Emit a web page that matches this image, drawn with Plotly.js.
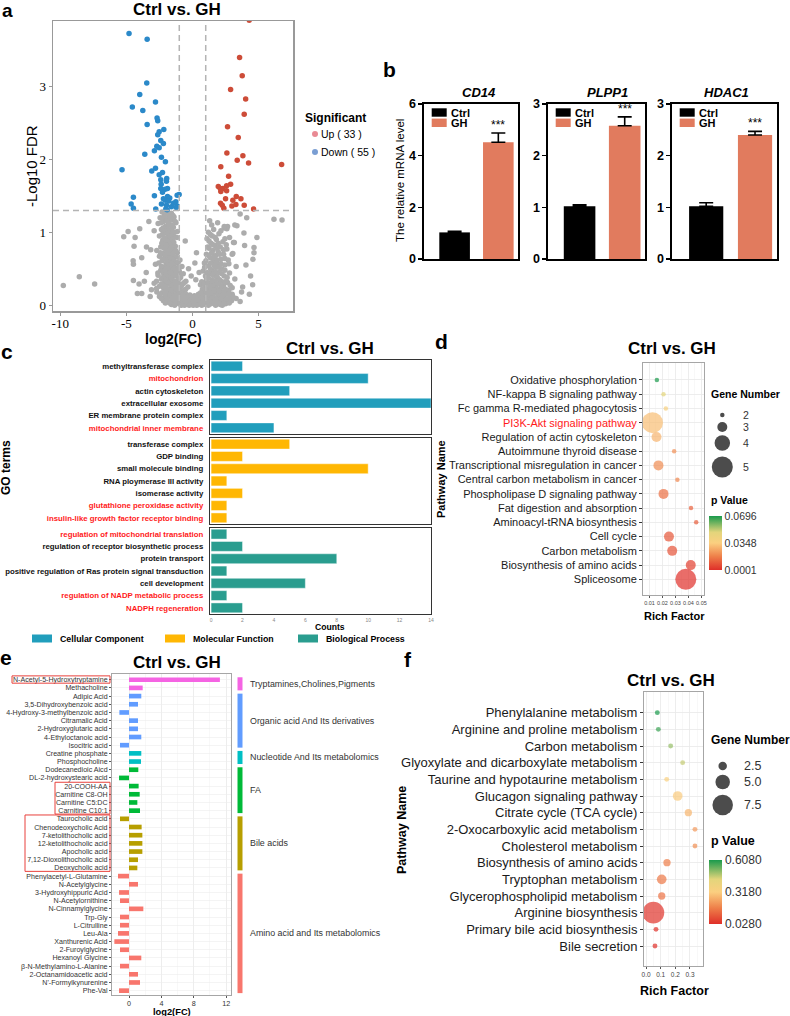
<!DOCTYPE html>
<html>
<head>
<meta charset="utf-8">
<script src="https://cdn.plot.ly/plotly-3.0.1.min.js"></script>
<style>
  body { margin: 0; background: #fff; }
  #chart { width: 790px; height: 1016px; }
</style>
</head>
<body>
<div id="chart"></div>
<script>
// ---------- a: volcano ----------
const volcanoUp = [[4.29,3.91],[3.56,3.4],[3.76,3.15],[2.88,2.96],[4.02,2.83],[3.91,2.62],[2.65,2.45],[3.46,2.3],[2.6,2.09],[3.81,2.05],[3.38,1.99],[4.24,1.95],[6.74,1.93],[2.14,1.9],
  [2.73,1.77],[2.88,1.66],[2.58,1.64],[1.95,1.63],[2.1,1.6],[2.3,1.6],[2.14,1.56],[2.58,1.57],[2.5,1.46],[3.05,1.44],[3.31,1.49],[3.66,1.46],[2.12,1.4],[2.25,1.37],[2.37,1.33],[2.98,1.36],[3.28,1.38],[3.91,1.37],[4.62,1.32]];
const volcanoDown = [[-4.8,3.73],[-3.43,3.65],[-3.46,3.05],[-3.99,2.89],[-2.8,2.79],[-4.55,2.72],[-3.76,2.67],[-2.68,2.57],[-2.63,2.53],[-3.43,2.48],[-2.17,2.41],[-2.52,2.38],[-2.63,2.34],[-2.4,2.26],[-2.2,2.22],[-2.7,2.18],[-2.52,2.16],[-2.88,2.12],[-3.61,2.07],[-2.35,2.03],[-2.05,1.97],[-2.8,1.88],[-5.33,1.86],
  [-3.08,1.84],[-2.27,1.82],[-2.52,1.79],[-1.95,1.74],[-2.4,1.72],[-1.97,1.7],[-2.37,1.66],[-1.89,1.6],[-2.4,1.6],[-2.07,1.59],[-2.27,1.55],[-2.88,1.5],[-1.89,1.49],[-1.72,1.47],[-1.16,1.51],[-1.01,1.52],[-4.47,1.48],[-2.05,1.44],[-1.8,1.43],[-1.26,1.42],[-4.64,1.39],[-2.35,1.39],[-1.97,1.37],[-1.16,1.36],[-4.47,1.33],[-2.78,1.32],[-2.02,1.32],[-1.23,1.34],[-1.92,1.31],[-1.6,1.35],[-2.2,1.46],[-1.45,1.4]];
const volcanoNS = [
  [-2.3,1.28],[-1.9,1.27],[-1.6,1.26],[-2.1,1.24],[-1.75,1.22],[-2.45,1.2],[-1.4,1.21],[-2.0,1.18],[-1.55,1.17],[-2.2,1.15],[-1.85,1.14],[-1.25,1.13],[-2.6,1.12],[-1.65,1.1],[-2.05,1.08],[-1.45,1.07],[-1.9,1.05],[-2.35,1.04],[-1.7,1.02],[-1.15,1.01],[-2.15,0.99],[-1.55,0.98],[-1.85,0.96],[-2.5,0.95],[-1.35,0.94],[-2.0,0.92],[-1.7,0.9],[-2.25,0.89],[-1.5,0.88],[-1.9,0.86],
  [-2.1,0.84],[-1.6,0.83],[-1.3,0.81],[-2.4,0.8],[-1.8,0.79],[-2.0,0.77],[-1.45,0.76],[-2.7,0.75],[-1.7,0.74],[-1.15,0.72],[-2.2,0.71],[-1.9,0.7],[-1.55,0.68],[-2.5,0.67],[-1.35,0.66],[-2.05,0.64],[-1.75,0.63],[-0.95,0.62],[-2.3,0.61],[-1.6,0.6],[-1.2,0.58],[-2.0,0.57],[-2.8,0.56],[-1.45,0.55],[-1.85,0.54],[-0.8,0.53],[-2.15,0.52],[-1.3,0.51],[-1.65,0.5],
  [-2.4,0.48],[-1.0,0.47],[-1.9,0.46],[-1.5,0.45],[-2.2,0.44],[-0.7,0.43],[-1.7,0.42],[-2.6,0.41],[-1.25,0.4],[-2.0,0.39],[-0.9,0.38],[-1.55,0.37],[-2.35,0.36],[-1.8,0.35],[-1.1,0.34],[-0.5,0.33],[-2.1,0.32],[-1.4,0.31],[-2.9,0.3],[-1.65,0.3],[-0.75,0.29],[-1.95,0.28],[-1.2,0.27],[-2.5,0.26],[-0.35,0.25],[-1.5,0.25],[-2.2,0.24],[-0.95,0.23],[-1.75,0.22],[-3.1,0.21],[-1.3,0.21],[-0.6,0.2],
  [-2.7,0.18],[-2.3,0.17],[-1.9,0.16],[-1.55,0.17],[-1.2,0.16],[-0.85,0.18],[-0.5,0.15],[-0.2,0.14],[0.15,0.13],[0.45,0.15],[0.8,0.17],[1.1,0.16],[1.45,0.18],[1.8,0.17],[2.2,0.16],[2.6,0.18],[3.0,0.15],
  [-2.5,0.12],[-2.1,0.11],[-1.7,0.12],[-1.35,0.1],[-1.0,0.11],[-0.65,0.09],[-0.3,0.08],[0.0,0.07],[0.3,0.09],[0.65,0.1],[0.95,0.11],[1.3,0.12],[1.65,0.1],[2.0,0.11],[2.4,0.12],[2.8,0.1],[3.3,0.09],
  [-2.2,0.06],[-1.85,0.05],[-1.5,0.06],[-1.15,0.04],[-0.8,0.05],[-0.45,0.03],[-0.1,0.02],[0.2,0.03],[0.5,0.04],[0.85,0.05],[1.2,0.04],[1.55,0.06],[1.9,0.05],[2.25,0.06],[2.6,0.04],[2.95,0.06],[3.6,0.05],
  [-1.6,0.01],[-1.0,0.02],[-0.6,0.0],[0.05,0.0],[0.4,0.01],[0.7,0.0],[1.0,0.01],[1.4,0.02],[1.75,0.0],[2.1,0.01],[2.5,0.02],
  [1.3,1.16],[1.9,1.13],[2.4,1.08],[2.6,1.05],[1.6,1.04],[3.2,1.1],[1.2,1.0],[2.0,0.98],[1.5,0.95],[2.8,0.93],[1.1,0.91],[1.8,0.9],[2.3,0.87],[1.4,0.85],[3.1,0.86],[1.7,0.82],[2.1,0.8],[1.25,0.78],[2.6,0.77],[1.55,0.75],[1.95,0.73],[1.05,0.7],[2.35,0.7],[1.75,0.68],[3.0,0.7],[1.35,0.65],[2.15,0.63],[2.7,0.62],[1.6,0.6],[0.9,0.58],[1.9,0.57],[2.45,0.55],[1.2,0.54],[3.3,0.53],[1.75,0.52],[2.2,0.5],[1.45,0.48],[0.8,0.47],[2.0,0.45],[2.8,0.44],[1.3,0.43],[1.65,0.41],[2.4,0.4],[1.05,0.38],[1.9,0.37],[3.2,0.36],[1.5,0.35],[2.15,0.33],[0.7,0.32],[2.65,0.31],[1.25,0.3],[1.8,0.28],[2.35,0.27],[0.95,0.26],[1.55,0.24],[3.0,0.24],[2.05,0.22],[1.15,0.21],[2.75,0.2],
  [-0.55,0.88],[0.3,0.72],[0.18,0.58],[-0.3,0.5],[0.5,0.45],[-0.1,0.4],[0.25,0.35],[0.6,0.28],
  [-9.77,0.27],[-8.56,0.39],[-7.4,0.29],[6.16,1.18],[6.77,1.17],[-5.2,0.94],[-4.87,1.01],[-4.34,0.93],[-3.99,1.05],[-4.42,0.81],[-4.49,0.61],[-4.47,0.56],[-3.84,0.65],[-3.48,0.8],[-3.16,0.76],[-4.47,0.34],[-4.17,0.16],[-3.84,0.16],[-4.04,0.29],[-3.64,0.33],[4.87,0.93],[3.89,0.99],[3.94,0.82],[4.65,0.79],[4.65,0.72],[4.57,0.63],[4.39,0.4],[4.04,0.55],[3.79,0.25],[3.71,0.18],[3.36,1.09],[2.65,1.08],[2.4,1.06],[3.16,0.86],[3.05,0.71],[4.55,0.28],[4.3,0.15],[-3.3,1.15],[-2.9,1.02],[-3.5,0.45],[-3.2,0.12],[4.1,1.2],[3.6,1.25],
  [-1.82,1.25],[-1.48,1.23],[-2.18,1.21],[-1.62,1.19],[-1.95,1.16],[-1.32,1.15],[-2.38,1.13],[-1.78,1.11],[-1.52,1.09],[-2.22,1.06],[-1.62,1.04],[-1.98,1.02],[-1.38,1.0],[-1.82,0.99],[-2.28,0.97],[-1.68,0.95],[-1.18,0.93],[-2.12,0.91],[-1.58,0.9],[-1.88,0.88],[-1.42,0.86],[-2.32,0.85],[-1.72,0.84],[-1.98,0.82],[-1.52,0.8],[-2.15,0.78],[-1.62,0.77],[-1.28,0.75],[-1.92,0.73],[-2.42,0.72],[-1.48,0.71],[-1.78,0.69],[-2.08,0.67],[-1.22,0.66],[-1.68,0.65],[-2.25,0.63],[-1.42,0.62],[-1.92,0.6],[-1.08,0.59],[-2.55,0.58],[-1.58,0.57],[-1.78,0.55],[-2.35,0.53],[-1.05,0.52],[-1.88,0.51],[-1.48,0.49],[-2.05,0.48],[-1.22,0.46],[-1.72,0.45],[-2.62,0.44],[-0.88,0.42],[-1.38,0.41],[-1.95,0.4],[-2.25,0.38],[-1.62,0.37],[-1.02,0.36],[-2.02,0.35],[-1.32,0.33],[-2.72,0.33],[-0.62,0.31],[-1.82,0.31],[-1.05,0.29],[-2.35,0.29],[-1.58,0.27],[-0.85,0.26],[-2.02,0.25],[-1.28,0.24],[-2.72,0.23],[-0.52,0.22],[-1.65,0.2],[-2.05,0.19],[-1.02,0.19],
  [-2.45,0.15],[-2.05,0.14],[-1.72,0.14],[-1.38,0.13],[-1.05,0.14],[-0.72,0.13],[-0.38,0.12],[-0.05,0.11],[0.28,0.12],[0.58,0.13],[0.88,0.14],[1.22,0.14],[1.55,0.15],[1.92,0.14],[2.32,0.14],[2.72,0.15],
  [-2.35,0.09],[-1.95,0.08],[-1.55,0.09],[-1.22,0.07],[-0.85,0.08],[-0.52,0.06],[-0.18,0.05],[0.12,0.06],[0.42,0.07],[0.78,0.08],[1.08,0.08],[1.45,0.09],[1.82,0.08],[2.15,0.09],[2.55,0.08],[3.05,0.12],
  [-2.05,0.03],[-1.72,0.03],[-1.32,0.02],[-0.92,0.03],[-0.32,0.04],[0.32,0.0],[0.62,0.03],[0.95,0.03],[1.32,0.05],[1.62,0.03],[2.02,0.03],[2.35,0.02],[2.78,0.03],[-1.35,0.0],[-0.85,0.0],[-0.25,0.0],[1.2,0.0],[2.25,0.0],
  [1.45,1.1],[2.15,1.02],[1.35,0.97],[1.72,0.93],[2.45,0.91],[1.25,0.88],[1.95,0.85],[1.55,0.83],[2.55,0.83],[1.15,0.8],[1.85,0.78],[2.35,0.76],[1.45,0.72],[2.05,0.7],[1.22,0.68],[1.62,0.66],[2.45,0.64],[1.85,0.62],[1.02,0.61],[1.38,0.58],[2.15,0.57],[2.75,0.57],[1.62,0.55],[0.92,0.52],[1.95,0.52],[1.35,0.5],[2.45,0.48],[1.72,0.46],[1.08,0.45],[2.22,0.43],[1.52,0.42],[0.98,0.4],[1.85,0.39],[2.62,0.38],[1.22,0.37],[2.05,0.35],[1.72,0.33],[1.02,0.33],[2.45,0.32],[1.45,0.31],[0.85,0.29],[2.02,0.29],[1.62,0.27],[2.85,0.27],[1.32,0.26],[2.2,0.25],[1.82,0.23],[0.75,0.22],[2.5,0.22],[1.4,0.21],[1.05,0.18],[1.98,0.19],[2.38,0.19],[0.62,0.17],[1.65,0.2]
];

// ---------- b: qPCR ----------
const genes = ['CD14', 'PLPP1', 'HDAC1'];
const ctrlMean = [1.03, 1.02, 1.02];
const ctrlErr = [0.04, 0.03, 0.07];
const ghMean = [4.52, 2.58, 2.40];
const ghErr = [0.36, 0.17, 0.07];
const bYMax = [6, 3, 3];

// ---------- c: GO ----------
const goCC = ['methyltransferase complex', 'mitochondrion', 'actin cytoskeleton', 'extracellular exosome', 'ER membrane protein complex', 'mitochondrial inner membrane'];
const goCCCount = [2, 10, 5, 14, 1, 4];
const goMF = ['transferase complex', 'GDP binding', 'small molecule binding', 'RNA ploymerase III activity', 'isomerase activity', 'glutathione peroxidase activity', 'insulin-like growth factor receptor binding'];
const goMFCount = [5, 2, 10, 1, 2, 1, 1];
const goBP = ['regulation of mitochondrial translation', 'regulation of receptor biosynthetic process', 'protein transport', 'positive regulation of Ras protein signal transduction', 'cell development', 'regulation of NADP metabolic process', 'NADPH regeneration'];
const goBPCount = [1, 2, 8, 1, 6, 1, 2];
const goRed = ['mitochondrion', 'mitochondrial inner membrane', 'glutathione peroxidase activity', 'insulin-like growth factor receptor binding', 'regulation of mitochondrial translation', 'regulation of NADP metabolic process', 'NADPH regeneration'];
const goGroups = ['Cellular Component', 'Molecular Function', 'Biological Process'];

// ---------- d: KEGG (genes) ----------
const keggNames = ['Oxidative phosphorylation', 'NF-kappa B signaling pathway', 'Fc gamma R-mediated phagocytosis', 'PI3K-Akt signaling pathway', 'Regulation of actin cytoskeleton', 'Autoimmune thyroid disease', 'Transcriptional misregulation in cancer', 'Central carbon metabolism in cancer', 'Phospholipase D signaling pathway', 'Fat digestion and absorption', 'Aminoacyl-tRNA biosynthesis', 'Cell cycle', 'Carbon metabolism', 'Biosynthesis of amino acids', 'Spliceosome'];
const keggRich = [0.0157, 0.0208, 0.0226, 0.0123, 0.0154, 0.029, 0.0169, 0.0315, 0.0208, 0.042, 0.046, 0.025, 0.0275, 0.0418, 0.038];
const keggGenes = [2, 2, 2, 5, 3, 2, 3, 2, 3, 2, 2, 3, 3, 3, 5];
const keggP = [0.0696, 0.048, 0.037, 0.031, 0.029, 0.021, 0.020, 0.019, 0.014, 0.011, 0.0098, 0.0085, 0.0077, 0.0036, 0.0001];
const keggRed = ['PI3K-Akt signaling pathway'];

// ---------- e: metabolites ----------
const metNames = ['N-Acetyl-5-Hydroxytryptamine', 'Methacholine', 'Adipic Acid', '3,5-Dihydroxybenzoic acid', '4-Hydroxy-3-methylbenzoic acid', 'Citramalic Acid', '2-Hydroxyglutaric acid', '4-Ethyloctanoic acid', 'Isocitric acid', 'Creatine phosphate', 'Phosphocholine', 'Dodecanedioic Aicd', 'DL-2-hydroxystearic acid', '20-COOH-AA', 'Carnitine C8-OH', 'Carnitine C5:DC', 'Carnitine C10:1', 'Taurocholic acid', 'Chenodeoxycholic Acid', '7-ketolithocholic acid', '12-ketolithocholic acid', 'Apocholic acid', '7,12-Dioxolithocholic acid', 'Deoxycholic acid', 'Phenylacetyl-L-Glutamine', 'N-Acetylglycine', '3-Hydroxyhippuric Acid', 'N-Acetylornithine', 'N-Cinnamylglycine', 'Trp-Gly', 'L-Citrulline', 'Leu-Ala', 'Xanthurenic Acid', '2-Furoylglycine', 'Hexanoyl Glycine', 'β-N-Methylamino-L-Alanine', '2-Octanamidoacetic acid', "N'-Formylkynurenine", 'Phe-Val'];
const metFC = [11.23, 1.69, 1.52, 1.11, -1.19, 1.11, 1.11, 1.52, -1.11, 1.52, 1.48, 1.15, -1.23, 1.19, 1.32, 1.03, 1.36, -1.11, 1.56, 1.65, 1.65, 1.65, 1.11, 1.03, -1.36, 1.11, -1.23, -1.11, 1.77, -1.11, -1.11, -1.36, -1.81, -1.11, 1.52, -1.11, 1.11, 1.36, -1.23];
const metClasses = ['Tryptamines,Cholines,Pigments', 'Organic acid And Its derivatives', 'Nucleotide And Its metabolomics', 'FA', 'Bile acids', 'Amino acid and Its metabolomics'];
const metClassSize = [2, 7, 2, 6, 7, 15];
const metClassColor = ['#F564E3', '#619CFF', '#00BFC4', '#00BA38', '#B79F00', '#F8766D'];
const metBoxed = [[0, 0], [13, 16], [17, 23]];

// ---------- f: KEGG (metabolites) ----------
const fNames = ['Phenylalanine metabolism', 'Arginine and proline metabolism', 'Carbon metabolism', 'Glyoxylate and dicarboxylate metabolism', 'Taurine and hypotaurine metabolism', 'Glucagon signaling pathway', 'Citrate cycle (TCA cycle)', '2-Oxocarboxylic acid metabolism', 'Cholesterol metabolism', 'Biosynthesis of amino acids', 'Tryptophan metabolism', 'Glycerophospholipid metabolism', 'Arginine biosynthesis', 'Primary bile acid biosynthesis', 'Bile secretion'];
const fRich = [0.077, 0.084, 0.168, 0.25, 0.141, 0.216, 0.289, 0.334, 0.334, 0.143, 0.107, 0.107, 0.05, 0.068, 0.061];
const fGenes = [1, 1, 1, 1, 1, 3, 2, 1, 1, 2, 3, 2, 8, 1, 1];
const fP = [0.608, 0.58, 0.5, 0.46, 0.33, 0.31, 0.27, 0.22, 0.2, 0.17, 0.16, 0.15, 0.035, 0.03, 0.028];

// ---------- helpers ----------
const W = 790, H = 1016;
const px = v => v / W;
const py = v => 1 - v / H;
const SANS = "'Liberation Sans', Arial, sans-serif";
const SERIF = "'Liberation Serif', 'Times New Roman', serif";
const RED = '#ff1a1a';
const pScale = [[0, '#df2f29'], [0.25, '#ee7f49'], [0.5, '#fbcf80'], [0.7, '#e3d57b'], [1, '#1a9a4c']];
const sizeD = n => 5.5 * n - 6.5;   // gene number -> marker diameter (panel d)
const sizeF = n => 2.5 + 2.4 * n;   // gene number -> marker diameter (panel f)
const redLabel = (s, list) => list.includes(s) ? '<span style="color:' + RED + '">' + s + '</span>' : s;

function ann(text, x, y, size, opts) {
  return Object.assign({
    text: text, x: px(x), y: py(y), xref: 'paper', yref: 'paper', showarrow: false,
    xanchor: 'center', yanchor: 'middle',
    font: { family: SANS, size: size, color: '#000' }
  }, opts || {});
}
const bold = (size, extra) => ({ font: Object.assign({ family: SANS, size: size, color: '#000', weight: 'bold' }, extra || {}) });

const traces = [];
const annotations = [];
const shapes = [];
const layout = {
  width: W, height: H, margin: { l: 0, r: 0, t: 0, b: 0 },
  paper_bgcolor: '#fff', plot_bgcolor: 'rgba(0,0,0,0)',
  showlegend: false, font: { family: SANS, color: '#000' }
};

// ===== a =====
[[volcanoNS, '#acacac'], [volcanoDown, '#2b89c9'], [volcanoUp, '#cd4c38']].forEach(([pts, col]) => {
  traces.push({
    type: 'scatter', mode: 'markers', xaxis: 'x', yaxis: 'y',
    x: pts.map(p => p[0]), y: pts.map(p => p[1]),
    marker: { color: col, size: 5.5 }, hoverinfo: 'skip'
  });
});
layout.xaxis = {
  domain: [px(53), px(293)], anchor: 'y', range: [-10.55, 7.6],
  tickvals: [-10, -5, 0, 5], ticktext: ['-10', '-5', '0', '5'],
  ticks: 'outside', ticklen: 3, tickcolor: '#999', ticklabelstandoff: -3,
  tickfont: { family: SERIF, size: 13, color: '#000' },
  showline: true, mirror: true, linecolor: '#999', linewidth: 1.5, showgrid: false, zeroline: false
};
layout.yaxis = {
  domain: [py(311), py(21)], anchor: 'x', range: [-0.08, 3.9],
  tickvals: [0, 1, 2, 3], ticks: 'outside', ticklen: 3, tickcolor: '#999',
  tickfont: { family: SERIF, size: 13, color: '#000' },
  showline: true, mirror: true, linecolor: '#999', linewidth: 1.5, showgrid: false, zeroline: false
};
[-1, 1].forEach(v => shapes.push({ type: 'line', xref: 'x', yref: 'y domain', x0: v, x1: v, y0: 0, y1: 1, line: { color: '#b4b4b4', width: 1.5, dash: '6px,4px' } }));
shapes.push({ type: 'line', xref: 'x domain', yref: 'y', x0: 0, x1: 1, y0: 1.3, y1: 1.3, line: { color: '#b4b4b4', width: 1.5, dash: '6px,4px' } });
annotations.push(ann('Ctrl vs. GH', 177, 10, 17, bold(17)));
annotations.push(ann('-Log10 FDR', 32, 166, 15, { textangle: -90 }));
annotations.push(ann('log2(FC)', 173, 339, 14, bold(14)));
annotations.push(ann('Significant', 303, 118, 12, Object.assign({ xanchor: 'left' }, bold(12))));
annotations.push(ann('Up ( ' + volcanoUp.length + ' )', 319, 134, 10.5, { xanchor: 'left' }));
annotations.push(ann('Down ( ' + volcanoDown.length + ' )', 319, 152, 10.5, { xanchor: 'left' }));

// ===== b =====
const bDomX = [[424, 518], [548, 645], [672, 777]];
const bTitleX = [479, 607, 726];
genes.forEach((g, i) => {
  const ax = i + 2;
  traces.push({
    type: 'bar', x: ['Ctrl'], y: [ctrlMean[i]], xaxis: 'x' + ax, yaxis: 'y' + ax, width: 0.7,
    marker: { color: '#000' },
    error_y: { type: 'data', symmetric: false, array: [ctrlErr[i]], arrayminus: [0], color: '#000', thickness: 1.6, width: 7 }
  });
  traces.push({
    type: 'bar', x: ['GH'], y: [ghMean[i]], xaxis: 'x' + ax, yaxis: 'y' + ax, width: 0.7,
    marker: { color: '#e17b5e' },
    error_y: { type: 'data', symmetric: false, array: [ghErr[i]], arrayminus: [0], color: '#000', thickness: 1.6, width: 7 }
  });
  layout['xaxis' + ax] = {
    domain: [px(bDomX[i][0]), px(bDomX[i][1])], anchor: 'y' + ax, type: 'category',
    categoryarray: ['Ctrl', 'GH'], range: [-0.7, 1.45], showticklabels: false, ticks: '',
    showline: true, mirror: true, linecolor: '#000', linewidth: 1.6, showgrid: false, zeroline: false
  };
  layout['yaxis' + ax] = {
    domain: [py(259), py(104)], anchor: 'x' + ax, range: [0, bYMax[i]], dtick: bYMax[i] === 6 ? 2 : 1,
    ticks: 'outside', ticklen: 4, tickwidth: 1.5, tickcolor: '#000',
    tickfont: { family: SANS, size: 12.5, color: '#000', weight: 'bold' },
    showline: true, mirror: true, linecolor: '#000', linewidth: 1.6, showgrid: false, zeroline: false
  };
  annotations.push({
    text: '***', x: 'GH', y: ghMean[i] + ghErr[i], xref: 'x' + ax, yref: 'y' + ax, showarrow: false,
    yanchor: 'bottom', yshift: -1, font: { family: SANS, size: 12, color: '#000' }
  });
  annotations.push(ann('<i>' + g + '</i>', bTitleX[i], 92, 13, bold(13)));
  const l = bDomX[i][0] + 7.7;
  shapes.push({ type: 'rect', xref: 'paper', yref: 'paper', x0: px(l), x1: px(l + 15), y0: py(116.7), y1: py(108.3), fillcolor: '#000', line: { width: 0 } });
  shapes.push({ type: 'rect', xref: 'paper', yref: 'paper', x0: px(l), x1: px(l + 15), y0: py(127), y1: py(118.6), fillcolor: '#e17b5e', line: { width: 0 } });
  annotations.push(ann('Ctrl', l + 17, 112.5, 11, Object.assign({ xanchor: 'left' }, bold(11))));
  annotations.push(ann('GH', l + 17, 122.8, 11, Object.assign({ xanchor: 'left' }, bold(11))));
});
annotations.push(ann('The relative mRNA level', 400, 181, 11.5, { textangle: -90 }));

// ===== c =====
const goColors = ['#219ebc', '#ffb703', '#2a9d8f'];
const goFacets = [[goCC, goCCCount], [goMF, goMFCount], [goBP, goBPCount]];
const goBoxY = [[360, 434], [438, 524], [528, 614]];
goFacets.forEach(([names, counts], k) => {
  const ax = k + 5;
  traces.push({
    type: 'bar', orientation: 'h', x: counts, y: names, xaxis: 'x' + ax, yaxis: 'y' + ax,
    marker: { color: goColors[k], line: { color: 'rgba(255,255,255,0.7)', width: 0.6 } }, width: 0.8
  });
  layout['xaxis' + ax] = {
    domain: [px(210), px(431)], anchor: 'y' + ax, range: [-0.07, 14],
    tickvals: [0, 2, 4, 6, 8, 10, 12, 14], showticklabels: k === 2, ticks: '', ticklabelstandoff: 1,
    tickfont: { family: SANS, size: 5, color: '#888' },
    showline: true, mirror: true, linecolor: '#333', linewidth: 1.2, showgrid: false, zeroline: false
  };
  layout['yaxis' + ax] = {
    domain: [py(goBoxY[k][1]), py(goBoxY[k][0])], anchor: 'x' + ax, type: 'category',
    categoryarray: names, range: [names.length - 0.5, -0.5],
    tickvals: names, ticktext: names.map(s => redLabel(s, goRed)), ticks: '', ticklabelstandoff: 4,
    tickfont: { family: SANS, size: 7.8, color: '#111', weight: 'bold' },
    showline: true, mirror: true, linecolor: '#333', linewidth: 1.2, showgrid: false, zeroline: false
  };
});
annotations.push(ann('Ctrl vs. GH', 330, 348, 17, bold(17)));
annotations.push(ann('GO terms', 6, 468, 12, Object.assign({ textangle: -90 }, bold(12))));
annotations.push(ann('Counts', 330, 627, 8.6, bold(8.6)));
const goLegX = [32, 165, 298];
goGroups.forEach((g, k) => {
  shapes.push({ type: 'rect', xref: 'paper', yref: 'paper', x0: px(goLegX[k]), x1: px(goLegX[k] + 20), y0: py(642.5), y1: py(634.5), fillcolor: goColors[k], line: { width: 0 } });
  annotations.push(ann(g, goLegX[k] + 26, 638.5, 8.8, Object.assign({ xanchor: 'left' }, bold(8.8))));
});

// ===== d =====
traces.push({
  type: 'scatter', mode: 'markers', xaxis: 'x8', yaxis: 'y8',
  x: keggRich, y: keggNames,
  marker: {
    size: keggGenes.map(sizeD), sizemode: 'diameter', color: keggP, cmin: 0.0001, cmax: 0.0696,
    colorscale: pScale, line: { width: 0 },
    colorbar: {
      x: px(709), xanchor: 'left', y: py(543), yanchor: 'middle', len: 54, lenmode: 'pixels',
      thickness: 13, xpad: 0, ypad: 0, outlinewidth: 0, ticks: '',
      tickvals: [0.0001, 0.0348, 0.0696], ticktext: ['0.0001', '0.0348', '0.0696'],
      tickfont: { family: SANS, size: 10.5, color: '#333' }
    }
  }
});
layout.xaxis8 = {
  domain: [px(643), px(704)], anchor: 'y8', range: [0.005, 0.052],
  tickvals: [0.01, 0.02, 0.03, 0.04, 0.05], ticktext: ['0.01', '0.02', '0.03', '0.04', '0.05'],
  ticks: 'outside', ticklen: 2, tickcolor: '#555', tickfont: { family: SANS, size: 5.5, color: '#444' },
  showgrid: true, gridcolor: '#e8e8e8', gridwidth: 0.8,
  minor: { tickvals: [0.005, 0.015, 0.025, 0.035, 0.045], showgrid: true, gridcolor: '#f2f2f2', gridwidth: 0.5 },
  showline: true, mirror: true, linecolor: '#a6a6a6', linewidth: 1, zeroline: false
};
layout.yaxis8 = {
  domain: [py(595), py(363)], anchor: 'x8', type: 'category', categoryarray: keggNames,
  range: [15.1, -1.19], tickvals: keggNames, ticktext: keggNames.map(s => redLabel(s, keggRed)),
  ticks: 'outside', ticklen: 3, tickcolor: '#333', tickfont: { family: SANS, size: 11, color: '#1a1a1a' },
  showgrid: true, gridcolor: '#e8e8e8', gridwidth: 0.8,
  showline: true, mirror: true, linecolor: '#a6a6a6', linewidth: 1, zeroline: false
};
annotations.push(ann('Ctrl vs. GH', 672, 348, 17, bold(17)));
annotations.push(ann('Pathway Name', 441, 479, 11, Object.assign({ textangle: -90 }, bold(11))));
annotations.push(ann('Rich Factor', 674, 616, 11, bold(11)));
annotations.push(ann('Gene Number', 709, 394, 10.5, Object.assign({ xanchor: 'left' }, bold(10.5))));
annotations.push(ann('p Value', 709, 500, 10.5, Object.assign({ xanchor: 'left' }, bold(10.5))));
const dLegendVals = [2, 3, 4, 5];
const dLegendY = [415, 427, 443, 467];
dLegendVals.forEach((v, i) => annotations.push(ann(String(v), 741, dLegendY[i], 10.5, { xanchor: 'left', font: { family: SANS, size: 10.5, color: '#333' } })));

// ===== e =====
const metClassOfRow = [];
metClassSize.forEach((n, k) => { for (let j = 0; j < n; j++) metClassOfRow.push(k); });
traces.push({
  type: 'bar', orientation: 'h', x: metFC, y: metNames, xaxis: 'x9', yaxis: 'y9', width: 0.57,
  marker: { color: metClassOfRow.map(k => metClassColor[k]) }
});
layout.xaxis9 = {
  domain: [px(112), px(231)], anchor: 'y9', range: [-2.1, 12.6],
  tickvals: [0, 4, 8, 12], ticks: 'outside', ticklen: 2, tickcolor: '#555', ticklabelstandoff: -1,
  tickfont: { family: SANS, size: 7.2, color: '#333' },
  showgrid: true, gridcolor: '#e8e8e8', gridwidth: 0.8,
  minor: { tickvals: [2, 6, 10], showgrid: true, gridcolor: '#f2f2f2', gridwidth: 0.5 },
  showline: true, mirror: true, linecolor: '#a6a6a6', linewidth: 1, zeroline: false
};
layout.yaxis9 = {
  domain: [py(995), py(674)], anchor: 'x9', type: 'category', categoryarray: metNames,
  range: [38.53, -0.7], tickvals: metNames, ticktext: metNames,
  ticks: 'outside', ticklen: 2, tickcolor: '#555', tickfont: { family: SANS, size: 7.1, color: '#333' },
  showgrid: true, gridcolor: '#ececec', gridwidth: 0.6,
  showline: true, mirror: true, linecolor: '#a6a6a6', linewidth: 1, zeroline: false
};
let rowStart = 0;
metClasses.forEach((c, k) => {
  const first = rowStart, last = rowStart + metClassSize[k] - 1;
  shapes.push({ type: 'rect', xref: 'paper', yref: 'y9', x0: px(237.5), x1: px(242.5), y0: first - 0.3, y1: last + 0.3, fillcolor: metClassColor[k], line: { width: 0 } });
  annotations.push({
    text: c, x: px(248), y: (first + last) / 2, xref: 'paper', yref: 'y9', showarrow: false,
    xanchor: 'left', yanchor: 'middle', font: { family: SANS, size: 8.9, color: '#333' }
  });
  rowStart = last + 1;
});
const boxLeft = [12, 55, 25];
metBoxed.forEach(([a, b], k) => {
  shapes.push({ type: 'rect', xref: 'paper', yref: 'y9', x0: px(boxLeft[k]), x1: px(110), y0: a - 0.47, y1: b + 0.42, line: { color: '#e8413c', width: 1 } });
});
annotations.push(ann('Ctrl vs. GH', 177, 662, 17, bold(17)));
annotations.push(ann('log2(FC)', 172, 1012, 9.3, bold(9.3)));

// ===== f =====
traces.push({
  type: 'scatter', mode: 'markers', xaxis: 'x10', yaxis: 'y10',
  x: fRich, y: fNames,
  marker: {
    size: fGenes.map(sizeF), sizemode: 'diameter', color: fP, cmin: 0.028, cmax: 0.608,
    colorscale: pScale, line: { width: 0 },
    colorbar: {
      x: px(709), xanchor: 'left', y: py(892), yanchor: 'middle', len: 64, lenmode: 'pixels',
      thickness: 12.5, xpad: 0, ypad: 0, outlinewidth: 0, ticks: '',
      tickvals: [0.028, 0.318, 0.608], ticktext: ['0.0280', '0.3180', '0.6080'],
      tickfont: { family: SANS, size: 12, color: '#333' }
    }
  }
});
layout.xaxis10 = {
  domain: [px(644), px(703)], anchor: 'y10', range: [-0.014, 0.389],
  tickvals: [0, 0.1, 0.2, 0.3], ticktext: ['0.0', '0.1', '0.2', '0.3'],
  ticks: 'outside', ticklen: 2, tickcolor: '#555', tickfont: { family: SANS, size: 6.5, color: '#444' },
  showgrid: true, gridcolor: '#e8e8e8', gridwidth: 0.8,
  minor: { tickvals: [0.05, 0.15, 0.25, 0.35], showgrid: true, gridcolor: '#f2f2f2', gridwidth: 0.5 },
  showline: true, mirror: true, linecolor: '#a6a6a6', linewidth: 1, zeroline: false
};
layout.yaxis10 = {
  domain: [py(966), py(692)], anchor: 'x10', type: 'category', categoryarray: fNames,
  range: [15.2, -1.24], tickvals: fNames, ticktext: fNames,
  ticks: 'outside', ticklen: 3, tickcolor: '#333', tickfont: { family: SANS, size: 13, color: '#1a1a1a' },
  showgrid: true, gridcolor: '#e8e8e8', gridwidth: 0.8,
  showline: true, mirror: true, linecolor: '#a6a6a6', linewidth: 1, zeroline: false
};
annotations.push(ann('Ctrl vs. GH', 671, 680, 17, bold(17)));
annotations.push(ann('Pathway Name', 402, 830, 12.5, Object.assign({ textangle: -90 }, bold(12.5))));
annotations.push(ann('Rich Factor', 674, 991, 12.5, bold(12.5)));
annotations.push(ann('Gene Number', 709, 740, 12, Object.assign({ xanchor: 'left' }, bold(12))));
annotations.push(ann('p Value', 709, 841, 12.5, Object.assign({ xanchor: 'left' }, bold(12.5))));
const fLegendVals = [2.5, 5.0, 7.5];
const fLegendY = [766, 782, 805];
fLegendVals.forEach((v, i) => annotations.push(ann(v.toFixed(1), 741.7, fLegendY[i], 12.5, { xanchor: 'left', font: { family: SANS, size: 12.5, color: '#333' } })));

// ===== legend keys on a page-pixel overlay axis =====
layout.xaxis11 = { domain: [0, 1], range: [0, W], anchor: 'y11', visible: false, fixedrange: true };
layout.yaxis11 = { domain: [0, 1], range: [H, 0], anchor: 'x11', visible: false, fixedrange: true };
traces.push({
  type: 'scatter', mode: 'markers', xaxis: 'x11', yaxis: 'y11', hoverinfo: 'skip',
  x: [315, 315].concat(dLegendVals.map(() => 722.3), fLegendVals.map(() => 722.7)),
  y: [134, 152].concat(dLegendY, fLegendY),
  marker: {
    sizemode: 'diameter', line: { width: 0 },
    size: [6, 6].concat(dLegendVals.map(sizeD), fLegendVals.map(sizeF)),
    color: ['#df5866', '#4275c0'].concat(dLegendVals.map(() => '#000'), fLegendVals.map(() => '#000'))
  }
});

// panel letters
[['a', 7, 11, 19], ['b', 389, 70, 21], ['c', 7, 351, 21], ['d', 441, 341, 21], ['e', 6, 657, 21], ['f', 408, 659, 21]].forEach(([t, x, y, s]) => {
  annotations.push(ann(t, x, y, s, bold(s)));
});

layout.annotations = annotations;
layout.shapes = shapes;

Plotly.newPlot('chart', traces, layout, { displayModeBar: false, staticPlot: true });
</script>
</body>
</html>
